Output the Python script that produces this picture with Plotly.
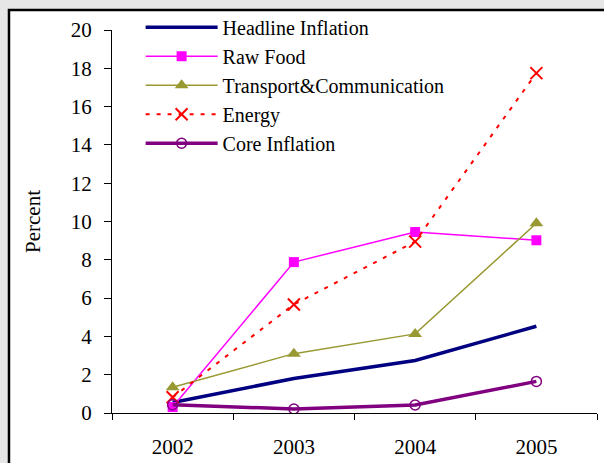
import plotly.graph_objects as go

years = ["2002", "2003", "2004", "2005"]
headline = [0.55, 1.8, 2.74, 4.53]
raw_food = [0.31, 7.88, 9.45, 9.02]
transport = [1.34, 3.1, 4.13, 9.91]
energy = [0.82, 5.67, 8.95, 17.75]
core = [0.43, 0.21, 0.42, 1.65]

FONT = "Times New Roman, Liberation Serif, serif"

fig = go.Figure()
fig.add_trace(go.Scatter(x=years, y=headline, name="Headline Inflation", mode="lines",
                         line=dict(color="#000080", width=3.5), legendgroup="a"))
fig.add_trace(go.Scatter(x=years, y=raw_food, name="Raw Food", mode="lines+markers",
                         line=dict(color="#FF00FF", width=1.5),
                         marker=dict(symbol="square", size=10, color="#FF00FF"), legendgroup="b"))
fig.add_trace(go.Scatter(x=years, y=transport, name="Transport&Communication", mode="lines+markers",
                         line=dict(color="#999933", width=1.5),
                         marker=dict(symbol="triangle-up", size=12, color="#999933"), legendgroup="c"))
fig.add_trace(go.Scatter(x=years, y=energy, name="Energy", mode="lines+markers",
                         line=dict(color="#FF0000", width=2, dash="4px,7px"),
                         marker=dict(symbol="x-thin", size=12, line=dict(color="#FF0000", width=2)),
                         legendgroup="d"))
fig.add_trace(go.Scatter(x=years, y=core, name="Core Inflation", mode="lines+markers",
                         line=dict(color="#800080", width=3.5),
                         marker=dict(symbol="circle-open", size=10, color="#800080", line=dict(width=1.5)),
                         legendgroup="e"))

fig.update_layout(
    width=604, height=463,
    margin=dict(l=112, r=7, t=30, b=50, autoexpand=False),
    paper_bgcolor="#e6e6e6",
    plot_bgcolor="rgba(0,0,0,0)",
    font=dict(family=FONT, size=21, color="black"),
    showlegend=True,
    legend=dict(x=0.059, y=1.058, xanchor="left", yanchor="top", bgcolor="rgba(0,0,0,0)",
                font=dict(family=FONT, size=20), tracegroupgap=0, itemwidth=72),
    shapes=[dict(type="rect", xref="paper", yref="paper", x0=-0.2124, x1=1.2, y0=-0.3, y1=1.052,
                 fillcolor="white", line=dict(color="black", width=2.5), layer="below")],
    xaxis=dict(type="category", range=[-0.5, 3.5], showline=True, linecolor="black", linewidth=1,
               ticks="outside", tickson="boundaries", ticklen=6, tickcolor="black",
               showgrid=False, zeroline=False, tickfont=dict(family=FONT, size=21),
               ticklabelstandoff=15),
    yaxis=dict(range=[0, 20], dtick=2, showline=True, linecolor="black", linewidth=1,
               ticks="outside", ticklen=7, tickcolor="black", showgrid=False, zeroline=False,
               tickfont=dict(family=FONT, size=21), ticklabelstandoff=8,
               title=dict(text="Percent", font=dict(family=FONT, size=21), standoff=24)),
)

fig.write_html("out.html", config={"displayModeBar": False},
               post_script="document.body.style.margin='0';document.body.style.background='#e6e6e6';")
